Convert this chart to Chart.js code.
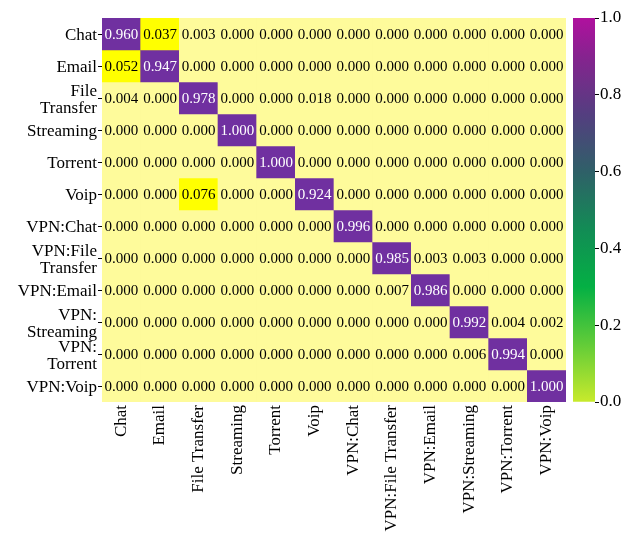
<!DOCTYPE html>
<html>
<head>
<meta charset="utf-8">
<script src="https://cdn.jsdelivr.net/npm/chart.js@4"></script>
<style>
  body { margin: 0; background: #fff; }
  #wrap { position: relative; width: 632px; height: 533px; }
  #matrix { position: absolute; left: 0; top: 0; }
  #cbar { position: absolute; left: 573px; top: 0; }
</style>
</head>
<body>
<div id="wrap">
  <canvas id="matrix" width="632" height="533"></canvas>
  <canvas id="cbar" width="59" height="533"></canvas>
</div>
<script>
// --- DATA ---
const classNames = ['Chat', 'Email', 'File Transfer', 'Streaming', 'Torrent', 'Voip',
  'VPN:Chat', 'VPN:File Transfer', 'VPN:Email', 'VPN:Streaming', 'VPN:Torrent', 'VPN:Voip'];
const rowLabels = [['Chat'], ['Email'], ['File', 'Transfer'], ['Streaming'], ['Torrent'], ['Voip'],
  ['VPN:Chat'], ['VPN:File', 'Transfer'], ['VPN:Email'], ['VPN:', 'Streaming'], ['VPN:', 'Torrent'], ['VPN:Voip']];

const rowChat         = [0.960, 0.037, 0.003, 0.000, 0.000, 0.000, 0.000, 0.000, 0.000, 0.000, 0.000, 0.000];
const rowEmail        = [0.052, 0.947, 0.000, 0.000, 0.000, 0.000, 0.000, 0.000, 0.000, 0.000, 0.000, 0.000];
const rowFileTransfer = [0.004, 0.000, 0.978, 0.000, 0.000, 0.018, 0.000, 0.000, 0.000, 0.000, 0.000, 0.000];
const rowStreaming    = [0.000, 0.000, 0.000, 1.000, 0.000, 0.000, 0.000, 0.000, 0.000, 0.000, 0.000, 0.000];
const rowTorrent      = [0.000, 0.000, 0.000, 0.000, 1.000, 0.000, 0.000, 0.000, 0.000, 0.000, 0.000, 0.000];
const rowVoip         = [0.000, 0.000, 0.076, 0.000, 0.000, 0.924, 0.000, 0.000, 0.000, 0.000, 0.000, 0.000];
const rowVpnChat      = [0.000, 0.000, 0.000, 0.000, 0.000, 0.000, 0.996, 0.000, 0.000, 0.000, 0.000, 0.000];
const rowVpnFile      = [0.000, 0.000, 0.000, 0.000, 0.000, 0.000, 0.000, 0.985, 0.003, 0.003, 0.000, 0.000];
const rowVpnEmail     = [0.000, 0.000, 0.000, 0.000, 0.000, 0.000, 0.000, 0.007, 0.986, 0.000, 0.000, 0.000];
const rowVpnStreaming = [0.000, 0.000, 0.000, 0.000, 0.000, 0.000, 0.000, 0.000, 0.000, 0.992, 0.004, 0.002];
const rowVpnTorrent   = [0.000, 0.000, 0.000, 0.000, 0.000, 0.000, 0.000, 0.000, 0.000, 0.006, 0.994, 0.000];
const rowVpnVoip      = [0.000, 0.000, 0.000, 0.000, 0.000, 0.000, 0.000, 0.000, 0.000, 0.000, 0.000, 1.000];

const matrix = [rowChat, rowEmail, rowFileTransfer, rowStreaming, rowTorrent, rowVoip,
  rowVpnChat, rowVpnFile, rowVpnEmail, rowVpnStreaming, rowVpnTorrent, rowVpnVoip];
const colorbarTicks = [0, 0.2, 0.4, 0.6, 0.8, 1.0];

// --- STYLE ---
const FONT = "'Liberation Serif', 'Times New Roman', serif";
const PURPLE = '#7030a0', YELLOW = '#ffff00', PALE = '#fefb9b';
const cellColor = v => v >= 0.5 ? PURPLE : (v >= 0.03 ? YELLOW : PALE);

// --- CELL TEXT PLUGIN ---
const cellText = {
  id: 'cellText',
  afterDatasetsDraw(chart) {
    const ctx = chart.ctx;
    ctx.save();
    ctx.font = '15px ' + FONT;
    ctx.textAlign = 'center';
    ctx.textBaseline = 'middle';
    chart.data.datasets.forEach((ds, r) => {
      chart.getDatasetMeta(r).data.forEach((bar, c) => {
        const v = matrix[r][c];
        ctx.fillStyle = v >= 0.5 ? '#fff' : '#000';
        ctx.fillText(v.toFixed(3), bar.x, (bar.y + bar.base) / 2 + 1);
      });
    });
    ctx.restore();
  }
};

// --- HEATMAP ---
new Chart(document.getElementById('matrix'), {
  type: 'bar',
  data: {
    labels: classNames,
    datasets: matrix.map((row, r) => ({
      label: classNames[r],
      data: row.map(() => 1),
      backgroundColor: row.map(cellColor),
      borderWidth: 0,
      barPercentage: 1,
      categoryPercentage: 1,
      stack: 'rows'
    }))
  },
  options: {
    responsive: false,
    animation: false,
    layout: { padding: { top: 18, right: 66, left: 0, bottom: 0 } },
    plugins: { legend: { display: false }, tooltip: { enabled: false } },
    scales: {
      x: {
        stacked: true,
        grid: { display: false, drawTicks: false },
        border: { display: false },
        ticks: { color: '#000', font: { family: FONT, size: 17 }, maxRotation: 90, minRotation: 90, autoSkip: false, padding: 3 },
        afterFit: s => { s.height = 131; }
      },
      y: {
        stacked: true,
        reverse: true,
        min: 0,
        max: matrix.length,
        grid: { drawOnChartArea: false, tickLength: 4, color: '#000', tickWidth: 1 },
        border: { display: false },
        afterBuildTicks: s => { s.ticks = rowLabels.map((_, i) => ({ value: i + 0.5 })); },
        ticks: {
          color: '#000',
          autoSkip: false,
          font: { family: FONT, size: 17, lineHeight: 0.95 },
          padding: 1,
          labelOffset: 2,
          callback: v => rowLabels[Math.floor(v)]
        },
        afterFit: s => { s.width = 102; }
      }
    }
  },
  plugins: [cellText]
});

// --- COLORBAR ---
const cbarStops = [[0, '#c8ea2c'], [0.15, '#62cc38'], [0.3, '#04b044'], [0.45, '#128c55'],
  [0.6, '#2f6068'], [0.75, '#543e80'], [0.9, '#86238f'], [1, '#b0109e']];
new Chart(document.getElementById('cbar'), {
  type: 'bar',
  data: {
    labels: ['scale'],
    datasets: [{
      data: [1],
      borderWidth: 0,
      barPercentage: 1,
      categoryPercentage: 1,
      backgroundColor: ctx => {
        const area = ctx.chart.chartArea;
        if (!area) return '#888';
        const g = ctx.chart.ctx.createLinearGradient(0, area.bottom, 0, area.top);
        cbarStops.forEach(([p, c]) => g.addColorStop(p, c));
        return g;
      }
    }]
  },
  options: {
    responsive: false,
    animation: false,
    layout: { padding: { top: 18, bottom: 131, left: 0, right: 0 } },
    plugins: { legend: { display: false }, tooltip: { enabled: false } },
    scales: {
      x: { display: false },
      y: {
        position: 'right',
        min: 0,
        max: 1,
        grid: { drawOnChartArea: false, tickLength: 4, color: '#000' },
        border: { display: false },
        afterBuildTicks: s => { s.ticks = colorbarTicks.map(v => ({ value: v })); },
        ticks: { color: '#000', autoSkip: false, font: { family: FONT, size: 17 }, padding: 1, callback: v => v.toFixed(1) },
        afterFit: s => { s.width = 37; }
      }
    }
  }
});
</script>
</body>
</html>
